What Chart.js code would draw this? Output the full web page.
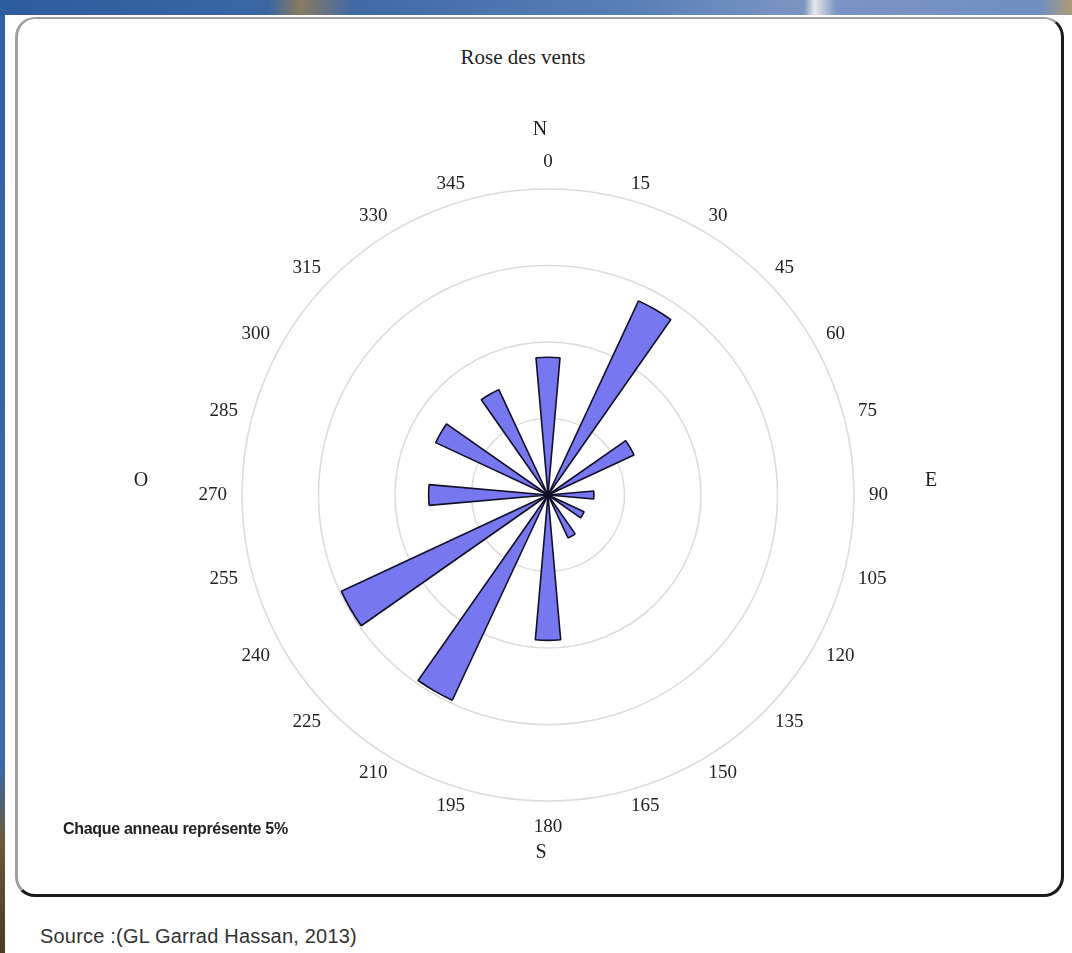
<!DOCTYPE html>
<html>
<head>
<meta charset="utf-8">
<script src="https://cdn.jsdelivr.net/npm/chart.js@4/dist/chart.umd.min.js"></script>
<style>
  html, body { margin: 0; padding: 0; }
  body { width: 1072px; height: 953px; position: relative; background: #fff; overflow: hidden; }
  #bandeau { position: absolute; left: 0; top: 0; width: 1072px; height: 15px;
    background: linear-gradient(90deg, #2d5c9c 0%, #3a66a4 25%, #8a7a60 28%, #3f6aa6 33%, #5a80b8 60%, #7b96c2 75%, #e8e8e8 76%, #7a95c3 78%, #6f8fc0 97%, #b09a78 100%); }
  #bord { position: absolute; left: 0; top: 15px; width: 5px; height: 938px;
    background: linear-gradient(180deg, #2f62a6 0%, #3a6aa8 80%, #6b5a3a 88%, #4a3a22 100%); }
  #cadre { position: absolute; left: 15px; top: 17px; width: 1043px; height: 875px;
    border-top: 2px solid #a0a0a0; border-left: 3px solid #a0a0a0;
    border-right: 3px solid #1a1a1a; border-bottom: 3px solid #1a1a1a;
    border-radius: 20px; background: #fff; }
  #titre { position: absolute; left: 423px; top: 45px; width: 200px; text-align: center;
    font-family: "Liberation Serif", serif; font-size: 21px; color: #222; }
  #note { position: absolute; left: 63px; top: 820px;
    font-family: "Liberation Sans", sans-serif; font-size: 16px; font-weight: bold; letter-spacing: -0.3px; color: #222; }
  #source { position: absolute; left: 40px; top: 925px;
    font-family: "Liberation Sans", sans-serif; font-size: 20px; letter-spacing: 0.2px; color: #333; }
  #zone { position: absolute; left: 100px; top: 100px; width: 896px; height: 790px; }
</style>
</head>
<body>
<div id="bandeau"></div>
<div id="bord"></div>
<div id="cadre"></div>
<div id="titre">Rose des vents</div>
<div id="zone"><canvas id="rose"></canvas></div>
<div id="note">Chaque anneau représente 5%</div>
<div id="source">Source :(GL Garrad Hassan, 2013)</div>
<script>
// secteurs de 30 degres, frequence en %
const directions = [0, 30, 60, 90, 120, 150, 180, 210, 240, 270, 300, 330];
const frequences = [9.0, 14.0, 6.2, 3.0, 2.6, 3.1, 9.5, 14.8, 14.9, 7.8, 8.1, 7.6];
const etiquettesAngles = ['0', '15', '30', '45', '60', '75', '90', '105', '120', '135', '150', '165',
  '180', '195', '210', '225', '240', '255', '270', '285', '300', '315', '330', '345'];
const pasAnneau = 5;
const maxAnneau = 20;
const largeurSecteur = 10; // degres
const cardinaux = [
  { t: 'N', dx: -8, dy: -365 },
  { t: 'E', dx: 383, dy: -14 },
  { t: 'S', dx: -7, dy: 358 },
  { t: 'O', dx: -407, dy: -14 }
];

// chaque secteur = un arc plein + un arc vide (ecart)
const pasDirection = 360 / directions.length;
const valeurs = [];
directions.forEach((d, i) => {
  valeurs.push(frequences[i]);
  valeurs.push(0);
});
const debut = directions[0] - largeurSecteur / 2;

// etiquettes de l'echelle tous les 5 degres, seules celles des 15 degres sont remplies
const pasEtiquette = 5;
const labels = new Array(360 / pasEtiquette).fill('');
etiquettesAngles.forEach(a => {
  labels[(Number(a) - debut) / pasEtiquette] = a;
});

// etiquettes centrees verticalement sur leur point d'ancrage (hauteur de ligne ~0)
const taillePolice = 19;
function ecartEtiquette(c) {
  const a = (c.index * pasEtiquette + debut) * Math.PI / 180;
  return Math.abs(Math.cos(a)) > 0.999 ? 26 : 15;
}

const pointsCardinaux = {
  id: 'pointsCardinaux',
  afterDraw(chart) {
    const s = chart.scales.r;
    const ctx = chart.ctx;
    ctx.save();
    ctx.font = '20px "Liberation Serif"';
    ctx.fillStyle = '#222';
    ctx.textAlign = 'center';
    ctx.textBaseline = 'middle';
    cardinaux.forEach(c => ctx.fillText(c.t, s.xCenter + c.dx, s.yCenter + c.dy));
    ctx.restore();
  }
};

new Chart(document.getElementById('rose'), {
  type: 'polarArea',
  data: {
    labels: labels,
    datasets: [{
      data: valeurs,
      angle: c => c.dataIndex % 2 === 0 ? largeurSecteur : pasDirection - largeurSecteur,
      backgroundColor: '#7777f0',
      borderColor: '#10102a',
      borderWidth: c => c.dataIndex % 2 === 0 ? 1.6 : 0
    }]
  },
  options: {
    responsive: true,
    maintainAspectRatio: false,
    animation: false,
    layout: { padding: { top: 62, bottom: 62, left: 0, right: 0 } },
    plugins: {
      legend: { display: false },
      tooltip: { enabled: false }
    },
    scales: {
      r: {
        min: 0,
        max: maxAnneau,
        startAngle: debut,
        ticks: { display: false, stepSize: pasAnneau },
        grid: { circular: true, color: '#dcdcdc', lineWidth: 1.6 },
        angleLines: { display: false },
        pointLabels: {
          display: true,
          padding: ecartEtiquette,
          color: '#222',
          font: { family: 'Liberation Serif', size: taillePolice, lineHeight: '1px' }
        }
      }
    }
  },
  plugins: [pointsCardinaux]
});
</script>
</body>
</html>
